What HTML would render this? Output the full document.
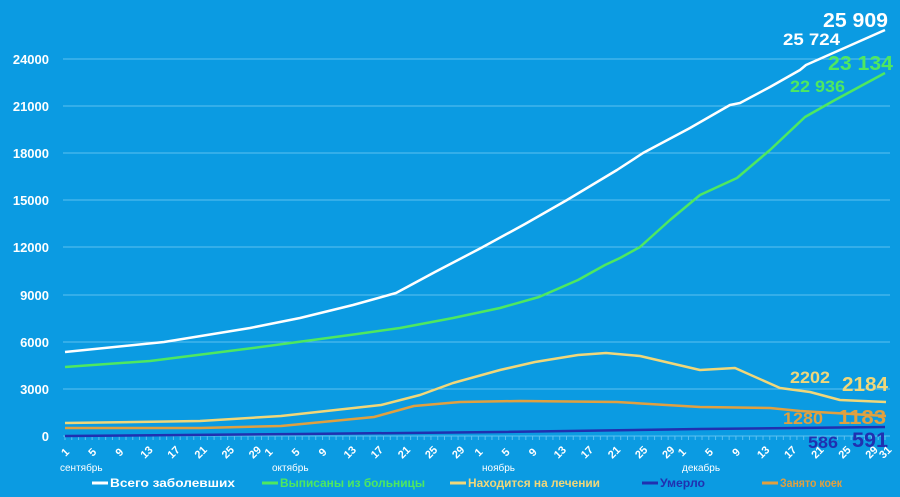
<!DOCTYPE html>
<html><head><meta charset="utf-8"><style>
html,body{margin:0;padding:0;background:#0b9be2;}
svg{display:block;font-family:"Liberation Sans",sans-serif;}
</style></head><body>
<svg width="900" height="497" viewBox="0 0 900 497" xmlns="http://www.w3.org/2000/svg">
<rect width="900" height="497" fill="#0b9be2"/>
<g stroke="#5cc0f0" stroke-width="1">
<line x1="63" y1="59" x2="890" y2="59"/><line x1="63" y1="106" x2="890" y2="106"/>
<line x1="63" y1="153" x2="890" y2="153"/><line x1="63" y1="200" x2="890" y2="200"/>
<line x1="63" y1="247" x2="890" y2="247"/><line x1="63" y1="295" x2="890" y2="295"/>
<line x1="63" y1="342" x2="890" y2="342"/><line x1="63" y1="389" x2="890" y2="389"/>
<line x1="63" y1="436" x2="890" y2="436"/>
</g>
<g id="minor" stroke="#5cc0f0" stroke-width="1"></g>
<g fill="#fff" font-size="13" font-weight="bold" text-anchor="end">
<text x="49" y="64">24000</text><text x="49" y="111">21000</text><text x="49" y="158">18000</text>
<text x="49" y="205">15000</text><text x="49" y="252">12000</text><text x="49" y="300">9000</text>
<text x="49" y="347">6000</text><text x="49" y="394">3000</text><text x="49" y="441">0</text>
</g>
<g fill="none" stroke-width="2.5" stroke-linejoin="round">
<polyline stroke="#fff" points="65,352 164,342 250,328 300,318 353,305 396,293 435,272 481,248 525,224 567,200 617,170 643,153 690,128 730,105 740,103 770,87 800,70 806,65 885,30"/>
<polyline stroke="#4ee860" points="65,367 150,361 253,348 350,335 400,328 453,318 500,308 539,297 578,280 605,265 620,258 640,247 670,220 700,195 737,178 770,150 805,117 835,100 885,73"/>
<polyline stroke="#f0d77a" points="65,423 200,421 281,416 381,405 420,395 453,383 500,370 535,362 578,355 606,353 640,356 700,370 735,368 780,388 810,392 840,400 886,402"/>
<polyline stroke="#e0a040" points="65,428 200,428 281,426 374,417 414,406 460,402 520,401 617,402 700,407 770,408 800,411 886,416"/>
<polyline stroke="#2030b0" points="65,436 300,434 500,432 700,429 885,427"/>
</g>
<g font-weight="bold">
<text x="823" y="27" fill="#fff" font-size="20" textLength="65" lengthAdjust="spacingAndGlyphs">25 909</text>
<text x="783" y="45" fill="#fff" font-size="17" textLength="57" lengthAdjust="spacingAndGlyphs">25 724</text>
<text x="828" y="70" fill="#4ee860" font-size="20" textLength="65" lengthAdjust="spacingAndGlyphs">23 134</text>
<text x="790" y="92" fill="#4ee860" font-size="17" textLength="55" lengthAdjust="spacingAndGlyphs">22 936</text>
<text x="790" y="383" fill="#f0d77a" font-size="17" textLength="40" lengthAdjust="spacingAndGlyphs">2202</text>
<text x="842" y="391" fill="#f0d77a" font-size="20" textLength="46" lengthAdjust="spacingAndGlyphs">2184</text>
<text x="783" y="424" fill="#e0a040" font-size="17" textLength="40" lengthAdjust="spacingAndGlyphs">1280</text>
<text x="838" y="424" fill="#e0a040" font-size="20" textLength="48" lengthAdjust="spacingAndGlyphs">1183</text>
<text x="808" y="448" fill="#2030b0" font-size="17" textLength="30" lengthAdjust="spacingAndGlyphs">586</text>
<text x="852" y="447" fill="#2030b0" font-size="21" textLength="36" lengthAdjust="spacingAndGlyphs">591</text>
</g>
<g fill="#fff" font-size="11" font-weight="bold" id="ticks"></g>
<g fill="#fff" font-size="10">
<text x="60" y="471">сентябрь</text><text x="272" y="471">октябрь</text>
<text x="482" y="471">ноябрь</text><text x="682" y="471">декабрь</text>
</g>
<g font-size="12" font-weight="bold">
<line x1="92" y1="483" x2="108" y2="483" stroke="#fff" stroke-width="3"/><text x="110" y="487" fill="#fff" textLength="125" lengthAdjust="spacingAndGlyphs">Всего заболевших</text>
<line x1="262" y1="483" x2="278" y2="483" stroke="#4ee860" stroke-width="3"/><text x="280" y="487" fill="#4ee860" textLength="145" lengthAdjust="spacingAndGlyphs">Выписаны из больницы</text>
<line x1="450" y1="483" x2="466" y2="483" stroke="#f0d77a" stroke-width="3"/><text x="468" y="487" fill="#f0d77a" textLength="132" lengthAdjust="spacingAndGlyphs">Находится на лечении</text>
<line x1="642" y1="483" x2="658" y2="483" stroke="#2030b0" stroke-width="3"/><text x="660" y="487" fill="#2030b0" textLength="45" lengthAdjust="spacingAndGlyphs">Умерло</text>
<line x1="762" y1="483" x2="778" y2="483" stroke="#e0a040" stroke-width="3"/><text x="780" y="487" fill="#e0a040" textLength="62" lengthAdjust="spacingAndGlyphs">Занято коек</text>
</g>
<script>
var g=document.getElementById('ticks');var mn=document.getElementById('minor');var ns="http://www.w3.org/2000/svg";
var months=[30,31,30,31];var d=0;
for(var m=0;m<4;m++){for(var day=1;day<=months[m];day++){
 var x=65+d*820/121;
 var l=document.createElementNS(ns,'line');l.setAttribute('x1',x);l.setAttribute('x2',x);l.setAttribute('y1',436);l.setAttribute('y2',440);mn.appendChild(l);
 if((day-1)%4==0||(m==3&&day==31)){
  var t=document.createElementNS(ns,'text');t.setAttribute('x',x);t.setAttribute('y',456);
  t.setAttribute('text-anchor','middle');t.setAttribute('transform','rotate(-45 '+x+' 452)');t.textContent=day;g.appendChild(t);}
 d++;}}
</script>
</svg>
</body></html>
